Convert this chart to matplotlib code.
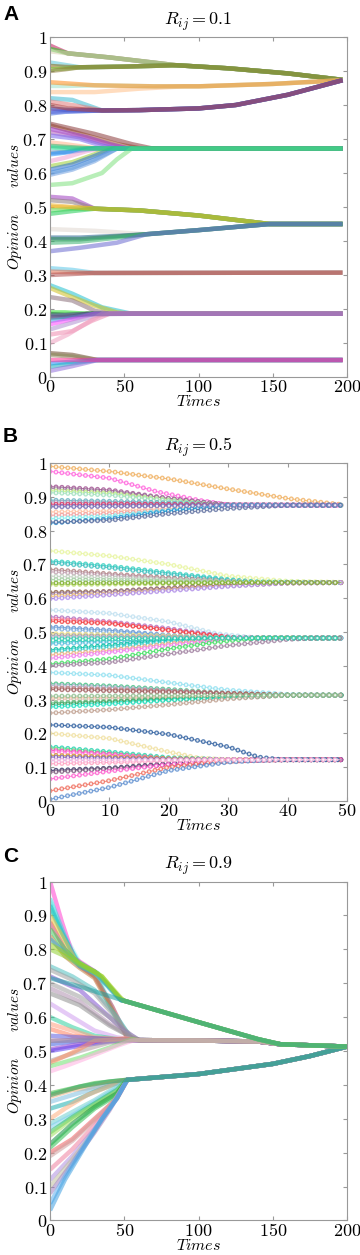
import matplotlib
matplotlib.use('Agg')
import matplotlib.pyplot as plt

plt.rcParams['mathtext.fontset'] = 'cm'
plt.rcParams['lines.scale_dashes'] = False

# ---- panel A : R_ij = 0.1, times 0..197 ----
a_paths = [
    ([12, 40, 85, 120, 160, 197], [.952, .94, .917, .908, .893, .874]),
    ([20, 50, 85, 120, 160, 197], [.911, .913, .917, .908, .893, .874]),
    ([30, 70, 100, 150, 197], [.858, .855, .855, .862, .873]),
    ([35, 60, 100, 125, 160, 197], [.784, .785, .79, .80, .83, .873]),
    ([75, 197], [.672, .672]),
    ([30, 60, 100, 148, 197], [.495, .49, .475, .45, .45]),
    ([65, 100, 148, 197], [.42, .432, .45, .45]),
    ([30, 197], [.306, .307]),
    ([55, 197], [.186, .186]),
    ([32, 197], [.05, .05]),
]
a_lines = [
    (0, [(0, .975), (5, .965), (12, .952)]),
    (0, [(0, .965), (5, .96), (12, .952)]),
    (0, [(0, .958), (6, .955), (12, .952)]),
    (1, [(0, .925), (10, .918), (20, .911)]),
    (1, [(0, .915), (10, .912), (20, .911)]),
    (1, [(0, .905), (10, .907), (20, .911)]),
    (1, [(0, .90), (10, .905), (20, .911)]),
    (2, [(0, .838), (30, .838), (60, .848), (90, .855)]),
    (2, [(0, .856), (10, .856), (30, .858)]),
    (2, [(0, .867), (10, .864), (30, .858)]),
    (3, [(0, .82), (15, .815), (35, .784)]),
    (3, [(0, .81), (15, .80), (35, .784)]),
    (3, [(0, .79), (10, .786), (35, .784)]),
    (3, [(0, .78), (10, .782), (35, .784)]),
    (3, [(0, .775), (10, .78), (35, .784)]),
    (3, [(0, .80), (12, .79), (35, .784)]),
    (4, [(0, .74), (25, .71), (45, .685), (60, .673)]),
    (4, [(0, .73), (25, .705), (40, .685), (52, .673)]),
    (4, [(0, .72), (20, .705), (40, .68), (50, .673)]),
    (4, [(0, .71), (20, .70), (35, .68), (45, .673)]),
    (4, [(0, .69), (10, .685), (30, .673)]),
    (4, [(0, .66), (10, .662), (25, .672)]),
    (4, [(0, .655), (10, .66), (30, .672)]),
    (4, [(0, .635), (10, .645), (25, .665), (35, .672)]),
    (4, [(0, .62), (15, .632), (30, .655), (40, .672)]),
    (4, [(0, .61), (15, .625), (30, .65), (42, .672)]),
    (4, [(0, .60), (15, .615), (30, .64), (45, .672)]),
    (4, [(0, .595), (15, .61), (30, .635), (45, .672)]),
    (4, [(0, .745), (30, .715), (55, .685), (68, .673)]),
    (4, [(0, .68), (10, .677), (25, .673)]),
    (4, [(0, .565), (15, .57), (35, .60), (45, .64), (55, .672)]),
    (4, [(0, .675), (5, .674), (15, .672)]),
    (5, [(0, .53), (15, .525), (30, .495)]),
    (5, [(0, .52), (15, .515), (30, .495)]),
    (5, [(0, .50), (15, .498), (30, .495)]),
    (5, [(0, .49), (15, .495), (30, .495)]),
    (5, [(0, .48), (15, .488), (30, .495)]),
    (5, [(0, .505), (15, .50), (30, .495)]),
    (6, [(0, .435), (30, .43), (65, .42)]),
    (6, [(0, .41), (20, .41), (45, .415), (65, .42)]),
    (6, [(0, .405), (20, .405), (50, .415), (65, .42)]),
    (6, [(0, .395), (20, .398), (50, .412), (65, .42)]),
    (6, [(0, .37), (20, .38), (45, .395), (65, .42)]),
    (7, [(0, .32), (15, .315), (30, .306)]),
    (7, [(0, .31), (30, .306)]),
    (7, [(0, .30), (15, .303), (30, .306)]),
    (8, [(0, .27), (15, .245), (35, .205), (55, .186)]),
    (8, [(0, .262), (12, .24), (30, .21), (45, .19)]),
    (8, [(0, .235), (15, .225), (30, .195), (40, .186)]),
    (8, [(0, .19), (10, .19), (25, .186)]),
    (8, [(0, .185), (10, .183), (25, .186)]),
    (8, [(0, .175), (15, .178), (25, .186)]),
    (8, [(0, .165), (15, .175), (30, .186)]),
    (8, [(0, .155), (15, .17), (30, .186)]),
    (8, [(0, .14), (15, .16), (30, .18), (40, .186)]),
    (8, [(0, .125), (15, .135), (28, .165), (40, .186)]),
    (8, [(0, .10), (12, .125), (25, .16), (35, .186)]),
    (8, [(0, .18), (30, .185), (55, .186)]),
    (9, [(0, .07), (15, .065), (32, .05)]),
    (9, [(0, .065), (15, .06), (32, .05)]),
    (9, [(0, .04), (15, .045), (32, .05)]),
    (9, [(0, .03), (15, .04), (32, .05)]),
    (9, [(0, .018), (15, .032), (32, .05)]),
    (9, [(0, .05), (32, .05)]),
]
a_colors = ['#c2185b', '#22cc22', '#d8cfae',
            '#5bc8d8', '#8b6914', '#7bd13a', '#8b7a3a',
            '#ffc08a', '#9fe0c8', '#ff8c1a',
            '#3ab8d0', '#e07b7b', '#1a1a8c', '#6a5acd', '#4169e1', '#b04040',
            '#a0522d', '#9932cc', '#b05fc0', '#7b68ee', '#ffb38a', '#4682b4',
            '#1e90ff', '#f0a0d0', '#9acd32', '#2f6fd0', '#4a90d9', '#6fa0e0',
            '#8b3a3a', '#3cb371', '#7ee07e', '#20d890',
            '#a040c0', '#8b7d7b', '#e8c040', '#66dd66', '#22cc55', '#f0b020',
            '#e0d8d0', '#1f5f8b', '#2e8b57', '#3cb371', '#6a6ad0',
            '#5bc8e8', '#e07050', '#b05050',
            '#20c0d0', '#d0c020', '#8b6f7b', '#22dd22', '#1a6a3a', '#303030',
            '#40a0e0', '#ff44ff', '#b090d0', '#f08cb0', '#f0a0c0', '#7060b0',
            '#6b4a2a', '#8b8b5a', '#1e90ff', '#20b0c0', '#9370db', '#ff3399']

# ---- panel B : R_ij = 0.5, times 0..49 ----
b_paths = [
    ([30, 49], [.875, .875]),
    ([35, 49], [.646, .646]),
    ([32, 49], [.482, .482]),
    ([40, 49], [.313, .313]),
    ([40, 49], [.122, .122]),
]
b_lines = [
    (0, [(0, .99), (10, .975), (20, .953), (30, .923), (40, .895), (49, .877)]),
    (0, [(0, .975), (10, .955), (18, .915), (25, .89), (30, .876)]),
    (0, [(0, .93), (10, .92), (20, .895), (30, .876)]),
    (0, [(0, .925), (10, .915), (20, .895), (30, .876)]),
    (0, [(0, .918), (10, .91), (20, .89), (28, .876)]),
    (0, [(0, .912), (10, .905), (20, .888), (28, .876)]),
    (0, [(0, .89), (15, .885), (30, .876)]),
    (0, [(0, .885), (15, .88), (30, .876)]),
    (0, [(0, .878), (15, .878), (30, .876)]),
    (0, [(0, .872), (15, .873), (30, .875)]),
    (0, [(0, .855), (10, .858), (20, .865), (30, .875)]),
    (0, [(0, .845), (10, .85), (20, .86), (30, .875)]),
    (0, [(0, .835), (10, .842), (20, .86), (28, .872)]),
    (0, [(0, .822), (10, .835), (20, .858), (28, .872)]),
    (0, [(0, .825), (10, .83), (20, .85), (30, .865), (40, .875)]),
    (0, [(0, .87), (30, .875)]),
    (1, [(0, .74), (10, .725), (20, .70), (30, .665), (40, .65), (49, .647)]),
    (1, [(0, .71), (10, .695), (20, .675), (30, .655), (35, .648)]),
    (1, [(0, .705), (10, .69), (20, .67), (30, .652), (35, .647)]),
    (1, [(0, .685), (10, .672), (20, .66), (30, .65)]),
    (1, [(0, .678), (10, .668), (20, .656), (30, .649)]),
    (1, [(0, .665), (20, .655), (35, .647)]),
    (1, [(0, .655), (20, .65), (35, .647)]),
    (1, [(0, .64), (20, .643), (35, .646)]),
    (1, [(0, .617), (10, .62), (20, .63), (30, .64), (40, .645)]),
    (1, [(0, .612), (10, .618), (20, .628), (30, .638), (40, .645)]),
    (1, [(0, .605), (10, .612), (20, .625), (30, .637), (40, .645)]),
    (1, [(0, .598), (10, .61), (20, .622), (30, .635), (40, .645)]),
    (1, [(0, .645), (35, .646)]),
    (2, [(0, .565), (10, .555), (20, .53), (28, .495), (35, .482)]),
    (2, [(0, .545), (10, .53), (20, .51), (30, .485)]),
    (2, [(0, .538), (10, .528), (20, .505), (30, .484)]),
    (2, [(0, .532), (10, .525), (20, .505), (30, .484)]),
    (2, [(0, .515), (10, .505), (20, .49), (30, .482)]),
    (2, [(0, .51), (10, .50), (20, .488), (30, .482)]),
    (2, [(0, .495), (20, .488), (32, .482)]),
    (2, [(0, .49), (20, .485), (32, .482)]),
    (2, [(0, .485), (20, .483), (32, .482)]),
    (2, [(0, .47), (15, .475), (30, .482)]),
    (2, [(0, .465), (15, .472), (30, .482)]),
    (2, [(0, .447), (10, .46), (20, .475), (30, .482)]),
    (2, [(0, .442), (10, .455), (20, .472), (30, .482)]),
    (2, [(0, .432), (10, .445), (20, .465), (30, .48)]),
    (2, [(0, .422), (10, .44), (20, .46), (30, .478)]),
    (2, [(0, .405), (10, .42), (20, .45), (28, .47), (35, .482)]),
    (2, [(0, .40), (10, .41), (20, .435), (30, .46), (40, .478), (45, .482)]),
    (2, [(0, .48), (32, .482)]),
    (3, [(0, .38), (10, .372), (20, .35), (30, .328), (40, .315), (49, .313)]),
    (3, [(0, .347), (10, .34), (20, .33), (30, .318), (40, .313)]),
    (3, [(0, .342), (10, .336), (20, .327), (30, .316), (40, .313)]),
    (3, [(0, .335), (20, .325), (40, .313)]),
    (3, [(0, .33), (20, .322), (40, .313)]),
    (3, [(0, .305), (20, .308), (40, .313)]),
    (3, [(0, .30), (20, .305), (40, .313)]),
    (3, [(0, .29), (10, .295), (20, .302), (40, .313)]),
    (3, [(0, .285), (10, .292), (20, .30), (40, .313)]),
    (3, [(0, .278), (10, .287), (20, .298), (40, .313)]),
    (3, [(0, .26), (10, .27), (20, .285), (30, .302), (40, .313)]),
    (3, [(0, .31), (40, .313)]),
    (4, [(0, .2), (10, .185), (20, .145), (25, .127), (30, .122)]),
    (4, [(0, .16), (10, .145), (20, .128), (30, .122)]),
    (4, [(0, .155), (10, .14), (20, .125), (30, .122)]),
    (4, [(0, .15), (10, .138), (20, .124), (30, .122)]),
    (4, [(0, .145), (10, .135), (20, .124), (30, .122)]),
    (4, [(0, .135), (20, .125), (30, .122)]),
    (4, [(0, .13), (20, .123), (30, .122)]),
    (4, [(0, .12), (20, .121), (30, .122)]),
    (4, [(0, .11), (20, .118), (30, .122)]),
    (4, [(0, .09), (10, .097), (20, .11), (30, .12), (40, .122)]),
    (4, [(0, .085), (10, .095), (20, .108), (30, .118), (40, .122)]),
    (4, [(0, .065), (10, .088), (20, .108), (30, .12)]),
    (4, [(0, .03), (10, .06), (20, .10), (27, .114), (35, .121)]),
    (4, [(0, .005), (10, .04), (20, .09), (30, .115), (38, .122)]),
    (4, [(0, .225), (10, .218), (20, .197), (30, .16), (35, .13), (39, .122)]),
    (4, [(0, .12), (40, .122)]),
]
b_colors = ['#f0b060', '#ff66dd', '#a05090', '#9c7a9c', '#c0f080', '#a0e0c0',
            '#60b0c0', '#a0a0c0', '#e03060', '#9050a0', '#ffc0a0', '#f0a0a0',
            '#80f0f0', '#2090d0', '#6070a0', '#8080c0',
            '#e8f5a0', '#30d0c0', '#40c0c0', '#b08080', '#c0a0b0', '#c0d0c0',
            '#a0d0a0', '#c0e070', '#8b6040', '#9c7aa0', '#f0c070', '#b090f0',
            '#80b030',
            '#c0e0f0', '#b070c0', '#ff80a0', '#f04040', '#6090d0', '#80b0e0',
            '#f0e080', '#a0a0a0', '#c0b0d0', '#20d0b0', '#60c0e0', '#00c0a0',
            '#40d0d0', '#f0b080', '#f080f0', '#40e060', '#a080a0', '#30d0b0',
            '#90e0f0', '#40c080', '#b0b0d0', '#c08080', '#a06060', '#ffc0a0',
            '#e0c0b0', '#60c080', '#40a060', '#20e0c0', '#c0a090', '#90c090',
            '#f0e0a0', '#20d0b0', '#80e080', '#ff40c0', '#ff80e0', '#d0a020',
            '#8060c0', '#a0a0f0', '#ffa0c0', '#303060', '#806080', '#ff60d0',
            '#f07060', '#6090d0', '#3060a0', '#ffc0e0']

# ---- panel C : R_ij = 0.9, times 0..200 ----
c_paths = [
    ([0, 20, 50, 100, 140, 155, 200], [.715, .69, .648, .585, .535, .52, .513]),
    ([60, 100, 140, 155, 200], [.532, .531, .528, .52, .513]),
    ([52, 100, 150, 175, 200], [.415, .432, .462, .485, .513]),
]
c_lines = [
    (2, [(0, .375), (15, .39), (30, .405), (52, .415)]),
    (2, [(0, .365), (15, .385), (25, .39), (40, .405), (52, .415)]),
    (2, [(0, .35), (15, .37), (30, .39), (45, .405), (52, .415)]),
    (2, [(0, .33), (15, .35), (30, .38), (45, .405), (52, .415)]),
    (2, [(0, .30), (10, .33), (25, .37), (45, .405), (52, .415)]),
    (2, [(0, .285), (15, .32), (30, .355), (45, .395), (52, .415)]),
    (2, [(0, .275), (15, .31), (30, .35), (45, .39), (52, .415)]),
    (2, [(0, .26), (15, .305), (30, .345), (45, .385), (52, .415)]),
    (2, [(0, .25), (15, .30), (30, .34), (45, .38), (52, .415)]),
    (2, [(0, .225), (15, .285), (30, .335), (45, .375), (52, .415)]),
    (2, [(0, .215), (15, .275), (30, .33), (45, .37), (52, .415)]),
    (2, [(0, .20), (15, .24), (30, .30), (45, .36), (52, .415)]),
    (2, [(0, .19), (15, .235), (30, .295), (45, .36), (52, .415)]),
    (2, [(0, .15), (15, .21), (30, .28), (45, .36), (52, .415)]),
    (2, [(0, .12), (15, .19), (30, .27), (40, .33), (52, .415)]),
    (2, [(0, .10), (15, .18), (30, .265), (40, .33), (52, .415)]),
    (2, [(0, .08), (15, .17), (30, .26), (40, .325), (52, .415)]),
    (2, [(0, .05), (10, .13), (25, .235), (35, .30), (45, .36), (52, .415)]),
    (2, [(0, .03), (10, .12), (25, .23), (35, .30), (45, .36), (52, .415)]),
    (2, [(0, .37), (20, .395), (40, .41), (52, .415)]),
    (1, [(0, .94), (10, .84), (20, .76), (32, .72), (45, .60), (55, .535)]),
    (1, [(0, .92), (10, .83), (20, .755), (32, .715), (45, .59), (55, .533)]),
    (1, [(0, .88), (10, .80), (20, .75), (30, .72), (42, .63), (52, .54)]),
    (1, [(0, .84), (10, .78), (20, .745), (30, .715), (42, .62), (52, .54)]),
    (1, [(0, .75), (15, .72), (30, .68), (45, .60), (55, .535)]),
    (1, [(0, .74), (15, .71), (30, .67), (45, .595), (55, .535)]),
    (1, [(0, .72), (20, .68), (35, .62), (50, .56)]),
    (1, [(0, .70), (20, .66), (40, .60), (55, .545)]),
    (1, [(0, .685), (20, .645), (40, .58), (55, .54)]),
    (1, [(0, .67), (20, .635), (40, .575), (55, .54)]),
    (1, [(0, .64), (15, .60), (30, .56), (45, .54)]),
    (1, [(0, .60), (15, .57), (30, .545), (45, .535)]),
    (1, [(0, .58), (15, .56), (30, .54), (45, .535)]),
    (1, [(0, .565), (15, .545), (30, .537)]),
    (1, [(0, .545), (20, .54), (40, .535)]),
    (1, [(0, .53), (20, .532), (40, .533)]),
    (1, [(0, .52), (20, .53), (40, .533)]),
    (1, [(0, .505), (20, .52), (40, .53)]),
    (1, [(0, .50), (20, .515), (40, .528)]),
    (1, [(0, .47), (20, .50), (40, .525)]),
    (1, [(0, .465), (15, .495), (30, .53), (50, .537)]),
    (1, [(0, .455), (20, .48), (40, .51), (55, .535)]),
    (1, [(0, .44), (10, .455), (25, .48), (45, .515), (55, .53)]),
    (1, [(0, .53), (30, .533), (55, .532)]),
    (0, [(0, 1.0), (8, .88), (16, .775), (30, .735), (40, .69), (48, .65)]),
    (0, [(0, .95), (8, .86), (16, .77), (30, .73), (42, .68), (48, .65)]),
    (0, [(0, .93), (8, .85), (18, .765), (30, .735), (44, .67), (48, .65)]),
    (0, [(0, .90), (8, .84), (18, .76), (30, .735), (44, .67), (48, .65)]),
    (0, [(0, .86), (10, .80), (20, .755), (32, .73), (44, .67), (48, .65)]),
    (0, [(0, .83), (10, .79), (20, .75), (32, .725), (44, .665), (48, .65)]),
    (0, [(0, .80), (10, .78), (20, .755), (35, .72), (46, .66)]),
    (0, [(0, .815), (10, .79), (20, .76), (35, .72), (48, .655)]),
    (0, [(0, .715)]),
]
c_colors = ['#40c040', '#f0b080', '#80c0e0', '#20b0b0', '#ffb080', '#70d0d0',
            '#80d0f0', '#30c060', '#a0e060', '#109040', '#30c050', '#f06060',
            '#d0a0a0', '#f080a0', '#b090e0', '#c0c0a0', '#a080c0', '#60b0f0',
            '#40a0e0', '#30a060',
            '#a0f0f0', '#40e0c0', '#d04060', '#c08040', '#50c0c0', '#a0a0a0',
            '#8050d0', '#a0a0a0', '#b090b0', '#909090', '#d0a0f0', '#30d0a0',
            '#ffa080', '#ff8060', '#6060e0', '#8040c0', '#4060e0', '#9040d0',
            '#6040f0', '#b0a0a0', '#ff9060', '#70e070', '#ffb0e0', '#b8aaa0',
            '#ff40d0', '#40e0e0', '#20c0c0', '#f0c040', '#40d060', '#30b0e0',
            '#90d030', '#a0d020', '#20a0a0']


def full_line(pts, path):
    t = [p[0] for p in pts]
    y = [p[1] for p in pts]
    for pt, py in zip(*path):
        if pt > t[-1]:
            t.append(pt)
            y.append(py)
    return t, y


def band_panel(ax, lines, paths, colors):
    for i, (g, pts) in enumerate(lines):
        t, y = full_line(pts, paths[g])
        ax.plot(t, y, color=colors[i % len(colors)], lw=3.2, alpha=0.55,
                solid_capstyle='butt')


def bead_panel(ax, lines, paths, colors):
    step = 297 * 0.72 / 50
    for i, (g, pts) in enumerate(lines):
        t, y = full_line(pts, paths[g])
        c = colors[i % len(colors)]
        ax.plot(t, y, color=c, lw=0.7, alpha=0.8)
        ax.plot(t, y, color=c, lw=3.6, alpha=0.8, linestyle=(0, (0.001, step)),
                dash_capstyle='round')
        ax.plot(t, y, color='white', lw=1.7, alpha=0.85,
                linestyle=(0, (0.001, step)), dash_capstyle='round')


def style_axes(ax, xmax, xticks, title):
    ax.set_xlim(0, xmax)
    ax.set_ylim(0, 1)
    yt = [0, .1, .2, .3, .4, .5, .6, .7, .8, .9, 1]
    ax.set_yticks(yt)
    ax.set_yticklabels(['$%g$' % v for v in yt])
    ax.set_xticks(xticks)
    ax.set_xticklabels(['$%g$' % v for v in xticks])
    ax.tick_params(direction='in', length=3, color='#999999', labelsize=13,
                   top=True, right=True, pad=2)
    ax.tick_params(axis='x', pad=1)
    for s in ax.spines.values():
        s.set_color('#999999')
        s.set_linewidth(0.8)
    ax.set_title(title, fontsize=13, pad=9)
    ax.set_xlabel(r'$Times$', fontsize=11.5)
    ax.set_ylabel(r'$Opinion\qquad values$', fontsize=11)
    ax.xaxis.set_label_coords(0.5, -0.051)
    ax.yaxis.set_label_coords(-0.088, 0.5)


fig = plt.figure(figsize=(3.6, 12.55), dpi=100)
ax_a = fig.add_axes([0.139, 0.6996, 0.825, 0.2709])
ax_b = fig.add_axes([0.139, 0.3618, 0.825, 0.2693])
ax_c = fig.add_axes([0.139, 0.0275, 0.825, 0.2701])

band_panel(ax_a, a_lines, a_paths, a_colors)
style_axes(ax_a, 200, [0, 50, 100, 150, 200], r'$R_{ij}=0.1$')

bead_panel(ax_b, b_lines, b_paths, b_colors)
style_axes(ax_b, 50, [0, 10, 20, 30, 40, 50], r'$R_{ij}=0.5$')

band_panel(ax_c, c_lines, c_paths, c_colors)
style_axes(ax_c, 200, [0, 50, 100, 150, 200], r'$R_{ij}=0.9$')

for letter, ypx in [('A', 15), ('B', 437), ('C', 857)]:
    fig.text(3 / 360, 1 - ypx / 1255, letter, fontsize=15, fontweight='bold',
             family='Liberation Sans', va='center', ha='left')

fig.savefig('out.png', dpi=100)
